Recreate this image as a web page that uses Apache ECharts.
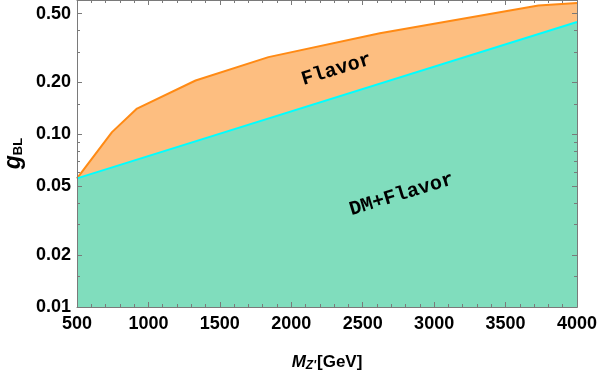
<!DOCTYPE html>
<html>
<head>
<meta charset="utf-8">
<script src="https://cdn.jsdelivr.net/npm/echarts@6/dist/echarts.min.js"></script>
<style>
  html, body { margin: 0; padding: 0; background: #fff; }
  #chart { width: 597px; height: 377px; }
</style>
</head>
<body>
<div id="chart"></div>
<script>
// Flavor bound on the coupling (upper edge of the orange region)
const flavorMass = [500, 745, 920, 1330, 1840, 2620, 3730, 4000];
const flavorCoupling = [0.0556, 0.103, 0.141, 0.205, 0.280, 0.385, 0.557, 0.576];

// Combined DM + flavor bound (upper edge of the green region)
const dmMass = [500, 4000];
const dmCoupling = [0.0556, 0.447];

// Region labels: [mass, coupling, text]
const regionLabels = [
  [2317, 0.237, 'Flavor'],
  [2772, 0.0447, 'DM+Flavor']
];

// Log-axis ticks
const yMajorTicks = [0.01, 0.02, 0.05, 0.1, 0.2, 0.5];
const yMinorTicks = [0.015, 0.03, 0.04, 0.06, 0.07, 0.08, 0.09, 0.15, 0.3, 0.4];

const zip = (xs, ys) => xs.map((x, i) => [x, ys[i]]);

const frameColor = '#7a7a7a';
const labelFont = { fontFamily: 'Liberation Sans', fontWeight: 'bold', fontSize: 18, color: '#000' };

function yAxisDef(position, ticks, len, withLabels) {
  return {
    type: 'log',
    position: position,
    min: 0.01,
    max: 0.6,
    logBase: 10,
    z: 10,
    axisLine: { show: true, lineStyle: { color: frameColor, width: 1 } },
    axisTick: { show: true, inside: true, length: len, customValues: ticks, lineStyle: { color: frameColor } },
    axisLabel: withLabels
      ? Object.assign({ show: true, customValues: ticks, margin: 6, formatter: v => Number(v).toFixed(2) }, labelFont)
      : { show: false },
    splitLine: { show: false },
    minorTick: { show: false },
    name: withLabels ? '{g|g}{s|BL}' : '',
    nameLocation: 'middle',
    nameRotate: 90,
    nameGap: 48,
    nameTextStyle: {
      rich: {
        g: { fontFamily: 'Liberation Sans', fontStyle: 'italic', fontWeight: 'bold', fontSize: 23, color: '#000' },
        s: { fontFamily: 'Liberation Sans', fontWeight: 'bold', fontSize: 13, color: '#000', padding: [10, 0, 0, 0] }
      }
    }
  };
}

function xAxisDef(position, withLabels) {
  return {
    type: 'value',
    position: position,
    min: 500,
    max: 4000,
    interval: 500,
    z: 10,
    axisLine: { show: true, onZero: false, lineStyle: { color: frameColor, width: 1 } },
    axisTick: { show: true, inside: true, length: 5, lineStyle: { color: frameColor } },
    minorTick: { show: true, splitNumber: 5, length: 3, lineStyle: { color: frameColor } },
    axisLabel: withLabels
      ? Object.assign({ show: true, margin: 8, formatter: v => String(v) }, labelFont)
      : { show: false },
    splitLine: { show: false },
    name: withLabels ? "{m|M}{z|Z'}{n|[GeV]}" : '',
    nameLocation: 'middle',
    nameGap: 45,
    nameTextStyle: {
      rich: {
        m: { fontFamily: 'Liberation Sans', fontStyle: 'italic', fontWeight: 'bold', fontSize: 17, color: '#000' },
        z: { fontFamily: 'Liberation Sans', fontStyle: 'italic', fontWeight: 'bold', fontSize: 12, color: '#000', padding: [8, 1, 0, 0] },
        n: { fontFamily: 'Liberation Sans', fontWeight: 'bold', fontSize: 17, color: '#000' }
      }
    }
  };
}

const chart = echarts.init(document.getElementById('chart'), null, { renderer: 'canvas' });

chart.setOption({
  animation: false,
  backgroundColor: '#ffffff',
  grid: { left: 77, right: 20, top: 0, bottom: 70, containLabel: false, outerBoundsMode: 'none' },
  xAxis: [xAxisDef('bottom', true), xAxisDef('top', false)],
  yAxis: [
    yAxisDef('left', yMajorTicks, 5, true),
    yAxisDef('left', yMinorTicks, 3, false),
    yAxisDef('right', yMajorTicks, 5, false),
    yAxisDef('right', yMinorTicks, 3, false)
  ],
  series: [
    {
      name: 'Flavor',
      type: 'line',
      xAxisIndex: 0,
      yAxisIndex: 0,
      data: zip(flavorMass, flavorCoupling),
      symbol: 'none',
      lineStyle: { color: '#ff8a14', width: 2 },
      areaStyle: { color: '#fdbe80', opacity: 1, origin: 'start' },
      z: 2
    },
    {
      name: 'DM+Flavor',
      type: 'line',
      xAxisIndex: 0,
      yAxisIndex: 0,
      data: zip(dmMass, dmCoupling),
      symbol: 'none',
      lineStyle: { color: '#00ffff', width: 2 },
      areaStyle: { color: '#80ddbd', opacity: 1, origin: 'start' },
      z: 3
    },
    {
      type: 'custom',
      xAxisIndex: 0,
      yAxisIndex: 0,
      data: regionLabels,
      z: 5,
      renderItem: function (params, api) {
        const p = api.coord([api.value(0), api.value(1)]);
        return {
          type: 'text',
          x: p[0],
          y: p[1],
          rotation: 17 * Math.PI / 180,
          style: {
            text: regionLabels[params.dataIndex][2],
            fontFamily: 'Liberation Mono',
            fontWeight: 'bold',
            fontSize: 20,
            fill: '#000',
            align: 'center',
            verticalAlign: 'middle'
          }
        };
      }
    }
  ]
});
</script>
</body>
</html>
